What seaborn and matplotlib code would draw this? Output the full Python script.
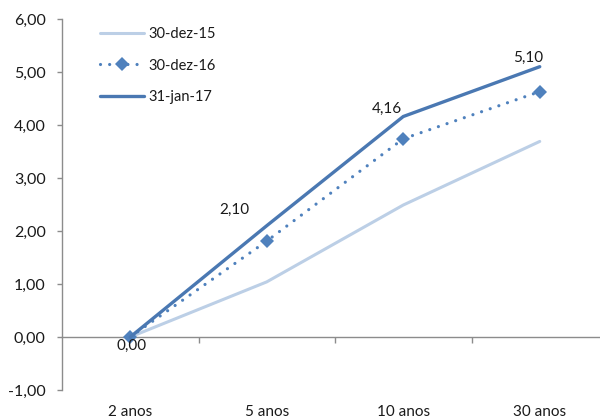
import matplotlib
matplotlib.use("Agg")
import matplotlib.pyplot as plt
from matplotlib.ticker import FuncFormatter, FixedLocator, NullFormatter
import seaborn as sns
import pandas as pd

# Yield curve spreads by maturity
maturities = ["2 anos", "5 anos", "10 anos", "30 anos"]
dez15 = [0.00, 1.04, 2.49, 3.69]
dez16 = [0.00, 1.81, 3.74, 4.63]
jan17 = [0.00, 2.10, 4.16, 5.10]
series_names = ["30-dez-15", "30-dez-16", "31-jan-17"]

sns.set_theme(style="white")
plt.rcParams["font.family"] = ["Lato", "DejaVu Sans"]

fig = plt.figure(figsize=(6.0, 4.19), dpi=100)
ax = fig.add_axes([62 / 600, 1 - 390 / 419, 546 / 600, (390 - 19) / 419])

grey = "#8c8c8c"
light = "#bccfe6"
mid = "#4f81bd"
dark = "#4a78b2"

df = pd.DataFrame({"maturidade": maturities, series_names[0]: dez15,
                   series_names[1]: dez16, series_names[2]: jan17})

sns.lineplot(data=df, x="maturidade", y=series_names[0], ax=ax, color=light,
             lw=2.2, label=series_names[0], sort=False)
sns.lineplot(data=df, x="maturidade", y=series_names[1], ax=ax, color=mid,
             lw=2.3, linestyle=(0, (0.01, 2.85)), dash_capstyle="round",
             marker="D", markersize=7, markeredgewidth=0,
             label=series_names[1], sort=False)
sns.lineplot(data=df, x="maturidade", y=series_names[2], ax=ax, color=dark,
             lw=2.4, label=series_names[2], sort=False)

# value labels on the latest curve
offsets = [(0.7, -6.5), (-23, 11.5), (-11.5, 5.8), (-8.6, 6.5)]
for i, (v, off) in enumerate(zip(jan17, offsets)):
    ax.annotate(f"{v:.2f}".replace(".", ","), (i, v), xytext=off,
                textcoords="offset points", ha="center", va="center",
                fontsize=11, color="#1a1a1a")

ax.set_xlim(-0.5, 3.5)
ax.set_ylim(-1, 6)
ax.set_yticks(range(-1, 7))
ax.yaxis.set_major_formatter(FuncFormatter(lambda v, p: f"{v:.2f}".replace(".", ",")))
ax.set_xlabel("")
ax.set_ylabel("")

for s in ["top", "right", "bottom"]:
    ax.spines[s].set_visible(False)
ax.spines["left"].set_color(grey)
ax.spines["left"].set_linewidth(1.0)

ax.tick_params(axis="y", direction="out", length=3.8, width=1, color=grey,
               left=True, labelsize=11.5, labelcolor="#1a1a1a", pad=8)
ax.tick_params(axis="x", length=0, labelsize=11, labelcolor="#1a1a1a", pad=11)

# horizontal axis line through zero with category boundary ticks
zero_axis = ax.secondary_xaxis(1 / 7)
zero_axis.spines["bottom"].set_color(grey)
zero_axis.spines["bottom"].set_linewidth(1.0)
zero_axis.xaxis.set_major_locator(FixedLocator([0.5, 1.5, 2.5]))
zero_axis.xaxis.set_major_formatter(NullFormatter())
zero_axis.tick_params(axis="x", direction="out", length=4, width=1, color=grey)

leg = ax.legend(loc="upper left", bbox_to_anchor=(0.062, 0.99), frameon=False,
                fontsize=10.5, handlelength=3.0, handletextpad=0.3,
                labelspacing=1.2, borderpad=0.3, borderaxespad=0)
for t in leg.get_texts():
    t.set_color("#1a1a1a")

fig.savefig("out.png", dpi=100)
